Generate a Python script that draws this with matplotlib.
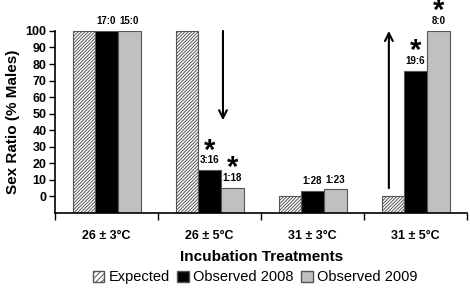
import matplotlib
matplotlib.use("Agg")
import matplotlib.pyplot as plt
from matplotlib.patches import Patch
import numpy as np

plt.rcParams['font.family'] = ['Liberation Sans', 'DejaVu Sans']
plt.rcParams['hatch.linewidth'] = 0.7
plt.rcParams['hatch.color'] = '#333333'

categories = ['26 ± 3°C', '26 ± 5°C', '31 ± 3°C', '31 ± 5°C']
expected = [100, 100, 0, 0]
obs2008 = [100, 15.8, 3.4, 76.0]
obs2009 = [100, 5.3, 4.2, 100]
labels2008 = ['17:0', '3:16', '1:28', '19:6']
labels2009 = ['15:0', '1:18', '1:23', '8:0']
star2008 = [False, True, False, True]
star2009 = [False, True, False, True]
yticks = [0, 10, 20, 30, 40, 50, 60, 70, 80, 90, 100]
series_names = ['Expected', 'Observed 2008', 'Observed 2009']
down_arrow = (100, 46)
up_arrow = (5, 100)

base = -10
hatch = '/' * 10
fig = plt.figure(figsize=(4.7, 2.89), dpi=100)
ax = fig.add_axes([0.117, 0.263, 0.877, 0.63])

x = np.arange(len(categories))
w = 0.22
ax.bar(x - w, np.array(expected) - base, w, bottom=base, color='white',
       edgecolor='#555555', hatch=hatch, linewidth=0.8)
ax.bar(x, np.array(obs2008) - base, w, bottom=base, color='black',
       edgecolor='#555555', linewidth=0.8)
ax.bar(x + w, np.array(obs2009) - base, w, bottom=base, color='#c0c0c0',
       edgecolor='#555555', linewidth=0.8)

for i in range(len(categories)):
    for off, v, lab, st in [(0, obs2008[i], labels2008[i], star2008[i]),
                            (w, obs2009[i], labels2009[i], star2009[i])]:
        ax.annotate(lab, xy=(x[i] + off, v), xytext=(0, 3.5),
                    textcoords='offset points', ha='center', va='bottom',
                    fontsize=7, fontweight='bold', annotation_clip=False)
        if st:
            ax.annotate('*', xy=(x[i] + off, v), xytext=(0, 8.5),
                        textcoords='offset points', ha='center', va='baseline',
                        fontsize=21, fontweight='bold', annotation_clip=False)

# arrows
ax.annotate('', xy=(1.13, down_arrow[1]), xytext=(1.13, down_arrow[0]),
            arrowprops=dict(arrowstyle='->', color='black', lw=1.5,
                            mutation_scale=14, shrinkA=0, shrinkB=0))
ax.annotate('', xy=(3 - 0.26, up_arrow[1]), xytext=(3 - 0.26, up_arrow[0]),
            arrowprops=dict(arrowstyle='->', color='black', lw=1.5,
                            mutation_scale=14, shrinkA=0, shrinkB=0))

ax.set_ylim(base, 100)
ax.set_xlim(-0.5, 3.5)
ax.set_yticks(yticks)
ax.set_yticklabels([str(t) for t in yticks], fontsize=9, fontweight='bold')
ax.set_xticks(x)
ax.set_xticklabels(categories, fontsize=9, fontweight='bold')
ax.tick_params(axis='x', which='major', length=0, pad=12)
ax.set_xticks(np.arange(-0.5, 4.0, 1.0), minor=True)
ax.tick_params(axis='x', which='minor', length=5, direction='out', width=1)
ax.tick_params(axis='y', length=4, direction='out', width=1, pad=2)
for s in ['top', 'right']:
    ax.spines[s].set_visible(False)
ax.spines['left'].set_linewidth(1.2)
ax.spines['bottom'].set_linewidth(1.2)

ax.set_ylabel('Sex Ratio (% Males)', fontsize=11, fontweight='bold', labelpad=4)
ax.set_xlabel('Incubation Treatments', fontsize=11, fontweight='bold', labelpad=6)

handles = [Patch(facecolor='white', edgecolor='#555555', hatch='/' * 6),
           Patch(facecolor='black', edgecolor='#555555'),
           Patch(facecolor='#c0c0c0', edgecolor='#555555')]
fig.legend(handles, series_names, loc='center', bbox_to_anchor=(0.543, 0.04),
           ncol=3, frameon=False, fontsize=10.5, handlelength=0.8,
           handleheight=0.8, handletextpad=0.3, columnspacing=0.5)

fig.savefig('out.png', dpi=100)
